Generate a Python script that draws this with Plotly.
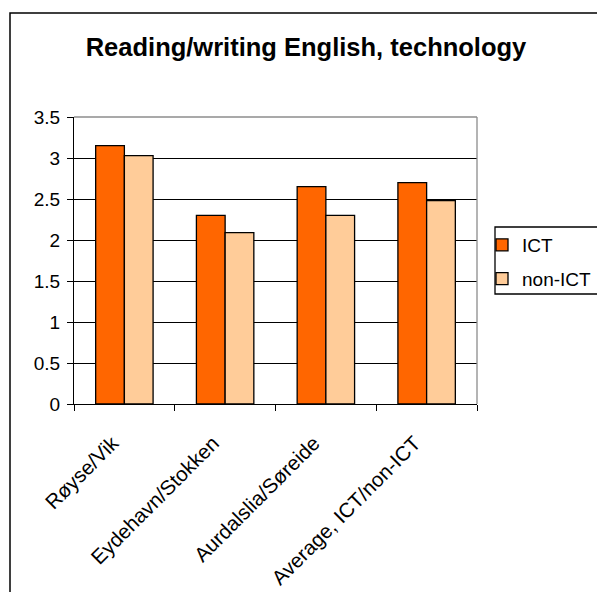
import plotly.graph_objects as go

categories = ["Røyse/Vik", "Eydehavn/Stokken", "Aurdalslia/Søreide", "Average, ICT/non-ICT"]
ict = [3.15, 2.30, 2.65, 2.70]
non_ict = [3.03, 2.09, 2.30, 2.48]
y_ticks = [0, 0.5, 1, 1.5, 2, 2.5, 3, 3.5]
y_tick_labels = ["0", "0.5", "1", "1.5", "2", "2.5", "3", "3.5"]

FONT = "Liberation Sans, Arial, sans-serif"

fig = go.Figure()
fig.add_trace(go.Bar(
    x=categories, y=ict, name="ICT", legendgroup="ict",
    marker=dict(color="#FF6600", line=dict(color="#000000", width=1.3)),
))
fig.add_trace(go.Bar(
    x=categories, y=non_ict, name="non-ICT", legendgroup="nonict",
    marker=dict(color="#FFCC99", line=dict(color="#000000", width=1.3)),
))

# plot-area frame: grey top and right edges
fig.add_shape(type="line", xref="paper", yref="paper", x0=0, x1=1, y0=1, y1=1,
              line=dict(color="#8c8c8c", width=1.3), layer="above")
fig.add_shape(type="line", xref="paper", yref="paper", x0=1, x1=1, y0=0, y1=1,
              line=dict(color="#8c8c8c", width=1.3), layer="above")

# pixel -> paper helpers for the fixed plot area
L, R, T, B = 74, 477, 117, 404
def px_x(p):
    return (p - L) / (R - L)
def px_y(p):
    return (B - p) / (B - T)

# outer chart border
fig.add_shape(type="rect", xref="paper", yref="paper",
              x0=px_x(10), x1=px_x(640), y0=px_y(13), y1=px_y(640),
              line=dict(color="#000000", width=1.5), layer="above")

# legend frame
fig.add_shape(type="rect", xref="paper", yref="paper",
              x0=px_x(495), x1=px_x(620), y0=px_y(227), y1=px_y(294),
              line=dict(color="#000000", width=1.3), fillcolor="white", layer="above")

fig.update_layout(
    width=597, height=592,
    margin=dict(l=L, r=597 - R, t=T, b=592 - B, pad=0, autoexpand=False),
    paper_bgcolor="white", plot_bgcolor="white",
    font=dict(family=FONT, color="#000000", size=19),
    title=dict(text="<b>Reading/writing English, technology</b>",
               x=306 / 597, xanchor="center", xref="container",
               y=1 - 47 / 592, yanchor="middle", yref="container",
               font=dict(size=25.5, family=FONT, color="#000000")),
    barmode="group", bargap=0.43, bargroupgap=0,
    showlegend=True,
    legend=dict(x=px_x(482), xanchor="left", y=px_y(226), yanchor="top",
                borderwidth=0, bgcolor="rgba(0,0,0,0)",
                font=dict(size=19, family=FONT), itemwidth=30,
                traceorder="grouped", tracegroupgap=6),
    xaxis=dict(showline=True, linecolor="#000000", linewidth=1.3,
               ticks="outside", ticklen=6, tickcolor="#000000", tickwidth=1.3,
               tickson="boundaries", tickangle=-45, showgrid=False,
               ticklabelstandoff=18, ticklabelshift=-12,
               tickfont=dict(size=20.5, family=FONT)),
    yaxis=dict(range=[0, 3.5], tickvals=y_ticks, ticktext=y_tick_labels,
               showline=True, linecolor="#000000", linewidth=1.3,
               ticks="outside", ticklen=6, tickcolor="#000000", tickwidth=1.3,
               ticklabelstandoff=3,
               showgrid=True, gridcolor="#000000", gridwidth=1,
               zeroline=False, tickfont=dict(size=19, family=FONT)),
)

fig.write_html("out.html")
